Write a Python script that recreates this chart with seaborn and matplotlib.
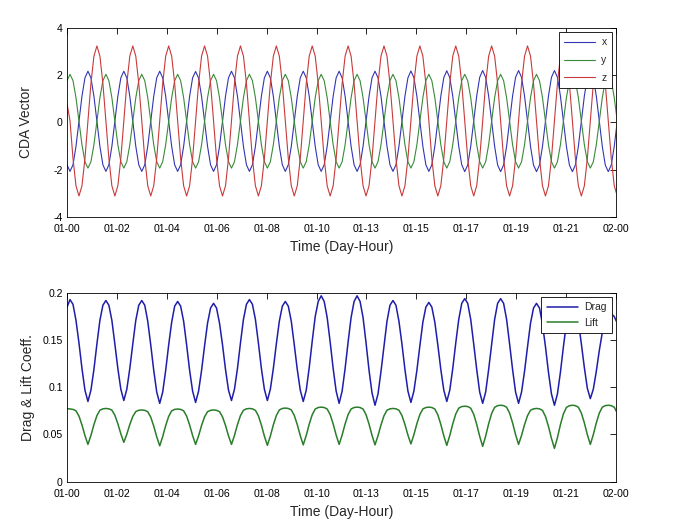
import numpy as np
import pandas as pd
import seaborn as sns
import matplotlib.pyplot as plt

# one sample every 470.6 s (about 12 samples per orbit)
t = pd.date_range('2013-01-01 00:00', periods=185, freq='470600ms')

# CDA vector components
cda_x = [-1.79,
         -2.07, -1.79, -1.01, 0.05, 1.11, 1.89, 2.17, 1.89, 1.11, 0.05, -1.01, -1.79,
         -2.07, -1.79, -1.01, 0.05, 1.11, 1.89, 2.17, 1.89, 1.11, 0.05, -1.01, -1.79,
         -2.07, -1.79, -1.01, 0.05, 1.11, 1.89, 2.17, 1.89, 1.11, 0.05, -1.01, -1.79,
         -2.07, -1.79, -1.01, 0.05, 1.11, 1.89, 2.16, 1.88, 1.10, 0.05, -1.01, -1.79,
         -2.07, -1.79, -1.01, 0.05, 1.11, 1.89, 2.17, 1.89, 1.11, 0.05, -1.01, -1.79,
         -2.07, -1.79, -1.01, 0.05, 1.11, 1.89, 2.17, 1.89, 1.11, 0.05, -1.01, -1.79,
         -2.07, -1.79, -1.01, 0.05, 1.11, 1.89, 2.17, 1.89, 1.11, 0.05, -1.01, -1.79,
         -2.07, -1.79, -1.01, 0.05, 1.11, 1.89, 2.17, 1.89, 1.11, 0.05, -1.01, -1.79,
         -2.07, -1.79, -1.01, 0.05, 1.11, 1.89, 2.17, 1.89, 1.11, 0.05, -1.01, -1.79,
         -2.07, -1.79, -1.01, 0.05, 1.11, 1.89, 2.18, 1.90, 1.11, 0.05, -1.01, -1.79,
         -2.07, -1.79, -1.01, 0.05, 1.11, 1.90, 2.19, 1.90, 1.11, 0.05, -1.01, -1.79,
         -2.08, -1.80, -1.01, 0.05, 1.12, 1.91, 2.20, 1.91, 1.12, 0.05, -1.01, -1.80,
         -2.08, -1.80, -1.01, 0.05, 1.12, 1.91, 2.20, 1.91, 1.12, 0.05, -1.01, -1.80,
         -2.08, -1.80, -1.01, 0.05, 1.12, 1.91, 2.20, 1.91, 1.12, 0.05, -1.01, -1.80,
         -2.08, -1.80, -1.01, 0.05, 1.12, 1.91, 2.20, 1.91, 1.12, 0.05, -1.01, -1.80,
         -2.08, -1.80, -1.01, 0.05]

cda_y = [1.77,
         2.04, 1.77, 1.05, 0.06, -0.94, -1.66, -1.93, -1.66, -0.94, 0.06, 1.05, 1.77,
         2.04, 1.77, 1.05, 0.06, -0.94, -1.66, -1.93, -1.66, -0.94, 0.06, 1.05, 1.77,
         2.04, 1.77, 1.05, 0.06, -0.94, -1.66, -1.93, -1.66, -0.94, 0.06, 1.05, 1.77,
         2.04, 1.77, 1.05, 0.06, -0.94, -1.66, -1.93, -1.66, -0.94, 0.06, 1.05, 1.77,
         2.04, 1.77, 1.05, 0.06, -0.94, -1.66, -1.93, -1.66, -0.94, 0.06, 1.05, 1.77,
         2.04, 1.77, 1.05, 0.06, -0.94, -1.66, -1.93, -1.66, -0.94, 0.06, 1.05, 1.77,
         2.04, 1.77, 1.05, 0.06, -0.94, -1.66, -1.93, -1.66, -0.94, 0.06, 1.05, 1.77,
         2.04, 1.77, 1.05, 0.06, -0.94, -1.66, -1.93, -1.66, -0.94, 0.06, 1.05, 1.77,
         2.04, 1.77, 1.05, 0.06, -0.94, -1.66, -1.93, -1.66, -0.94, 0.06, 1.05, 1.77,
         2.04, 1.77, 1.05, 0.06, -0.94, -1.66, -1.93, -1.66, -0.94, 0.06, 1.05, 1.77,
         2.04, 1.77, 1.05, 0.06, -0.94, -1.66, -1.93, -1.66, -0.94, 0.06, 1.05, 1.77,
         2.04, 1.77, 1.05, 0.06, -0.94, -1.66, -1.93, -1.66, -0.94, 0.06, 1.05, 1.77,
         2.04, 1.77, 1.05, 0.06, -0.94, -1.66, -1.93, -1.66, -0.94, 0.06, 1.05, 1.77,
         2.04, 1.77, 1.05, 0.06, -0.94, -1.66, -1.93, -1.66, -0.94, 0.06, 1.05, 1.77,
         2.04, 1.77, 1.05, 0.06, -0.94, -1.66, -1.93, -1.66, -0.94, 0.06, 1.05, 1.77,
         2.04, 1.77, 1.05, 0.06]

cda_z = [0.80,
         0.07, -1.52, -2.68, -3.11, -2.68, -1.52, 0.07, 1.65, 2.81, 3.24, 2.81, 1.65,
         0.07, -1.52, -2.68, -3.11, -2.68, -1.52, 0.07, 1.65, 2.81, 3.24, 2.81, 1.65,
         0.07, -1.52, -2.68, -3.11, -2.68, -1.52, 0.07, 1.65, 2.81, 3.24, 2.81, 1.65,
         0.07, -1.52, -2.68, -3.11, -2.68, -1.52, 0.07, 1.65, 2.81, 3.24, 2.81, 1.65,
         0.07, -1.52, -2.68, -3.11, -2.68, -1.52, 0.07, 1.65, 2.81, 3.24, 2.81, 1.65,
         0.07, -1.52, -2.68, -3.11, -2.68, -1.52, 0.07, 1.65, 2.81, 3.24, 2.81, 1.65,
         0.07, -1.52, -2.68, -3.11, -2.68, -1.52, 0.07, 1.65, 2.81, 3.24, 2.81, 1.65,
         0.07, -1.52, -2.68, -3.11, -2.68, -1.52, 0.07, 1.65, 2.81, 3.24, 2.81, 1.65,
         0.07, -1.52, -2.68, -3.11, -2.68, -1.52, 0.07, 1.65, 2.81, 3.24, 2.81, 1.65,
         0.07, -1.52, -2.68, -3.11, -2.68, -1.52, 0.07, 1.65, 2.81, 3.24, 2.81, 1.65,
         0.07, -1.52, -2.68, -3.11, -2.68, -1.52, 0.07, 1.65, 2.81, 3.24, 2.81, 1.65,
         0.07, -1.52, -2.68, -3.11, -2.68, -1.52, 0.07, 1.65, 2.81, 3.24, 2.81, 1.65,
         0.07, -1.52, -2.68, -3.11, -2.68, -1.52, 0.07, 1.65, 2.81, 3.24, 2.81, 1.65,
         0.07, -1.52, -2.68, -3.11, -2.68, -1.52, 0.07, 1.65, 2.81, 3.24, 2.81, 1.65,
         0.07, -1.52, -2.68, -3.11, -2.68, -1.52, 0.07, 1.65, 2.81, 3.24, 2.81, 1.65,
         0.07, -1.52, -2.68, -3.11]

# aerodynamic coefficients
drag = [0.185,
        0.193, 0.188, 0.171, 0.147, 0.120, 0.097, 0.085, 0.097, 0.119, 0.146, 0.171, 0.187,
        0.192, 0.187, 0.171, 0.146, 0.120, 0.098, 0.086, 0.098, 0.120, 0.146, 0.171, 0.187,
        0.192, 0.187, 0.170, 0.145, 0.118, 0.095, 0.083, 0.095, 0.118, 0.145, 0.169, 0.186,
        0.191, 0.186, 0.170, 0.145, 0.118, 0.096, 0.084, 0.096, 0.118, 0.144, 0.168, 0.184,
        0.189, 0.184, 0.168, 0.145, 0.119, 0.097, 0.086, 0.098, 0.120, 0.147, 0.172, 0.188,
        0.193, 0.188, 0.172, 0.147, 0.120, 0.098, 0.086, 0.098, 0.120, 0.146, 0.170, 0.186,
        0.191, 0.186, 0.170, 0.145, 0.119, 0.097, 0.085, 0.097, 0.121, 0.149, 0.175, 0.191,
        0.197, 0.191, 0.174, 0.148, 0.120, 0.096, 0.083, 0.096, 0.120, 0.148, 0.174, 0.191,
        0.197, 0.191, 0.174, 0.147, 0.118, 0.094, 0.081, 0.093, 0.117, 0.144, 0.170, 0.187,
        0.192, 0.187, 0.170, 0.146, 0.119, 0.096, 0.084, 0.096, 0.118, 0.144, 0.169, 0.185,
        0.190, 0.185, 0.169, 0.145, 0.119, 0.097, 0.085, 0.097, 0.120, 0.147, 0.172, 0.189,
        0.194, 0.189, 0.172, 0.146, 0.119, 0.095, 0.083, 0.095, 0.119, 0.146, 0.172, 0.189,
        0.194, 0.189, 0.172, 0.146, 0.119, 0.095, 0.083, 0.095, 0.117, 0.143, 0.168, 0.184,
        0.189, 0.184, 0.167, 0.143, 0.116, 0.093, 0.081, 0.093, 0.116, 0.143, 0.168, 0.185,
        0.190, 0.185, 0.170, 0.146, 0.121, 0.099, 0.088, 0.098, 0.117, 0.139, 0.158, 0.170,
        0.176, 0.178, 0.175, 0.168]

lift = [0.0775,
        0.0770, 0.0766, 0.0751, 0.0695, 0.0601, 0.0489, 0.0395, 0.0490, 0.0605, 0.0700, 0.0757, 0.0772,
        0.0776, 0.0772, 0.0758, 0.0704, 0.0614, 0.0507, 0.0417, 0.0503, 0.0606, 0.0691, 0.0743, 0.0757,
        0.0760, 0.0756, 0.0741, 0.0684, 0.0589, 0.0475, 0.0380, 0.0478, 0.0595, 0.0692, 0.0751, 0.0766,
        0.0770, 0.0766, 0.0751, 0.0695, 0.0601, 0.0489, 0.0395, 0.0486, 0.0596, 0.0687, 0.0742, 0.0756,
        0.0760, 0.0756, 0.0742, 0.0687, 0.0596, 0.0486, 0.0395, 0.0490, 0.0605, 0.0700, 0.0757, 0.0772,
        0.0776, 0.0772, 0.0756, 0.0698, 0.0600, 0.0483, 0.0385, 0.0484, 0.0602, 0.0701, 0.0760, 0.0776,
        0.0780, 0.0776, 0.0761, 0.0702, 0.0605, 0.0488, 0.0390, 0.0490, 0.0610, 0.0710, 0.0770, 0.0786,
        0.0790, 0.0786, 0.0770, 0.0711, 0.0612, 0.0494, 0.0395, 0.0494, 0.0612, 0.0711, 0.0770, 0.0786,
        0.0790, 0.0786, 0.0770, 0.0710, 0.0610, 0.0490, 0.0390, 0.0487, 0.0602, 0.0699, 0.0757, 0.0772,
        0.0776, 0.0772, 0.0757, 0.0701, 0.0607, 0.0494, 0.0400, 0.0498, 0.0615, 0.0712, 0.0771, 0.0786,
        0.0790, 0.0786, 0.0770, 0.0709, 0.0608, 0.0486, 0.0385, 0.0489, 0.0613, 0.0717, 0.0779, 0.0796,
        0.0800, 0.0796, 0.0779, 0.0715, 0.0608, 0.0481, 0.0374, 0.0483, 0.0614, 0.0723, 0.0788, 0.0806,
        0.0810, 0.0806, 0.0789, 0.0727, 0.0623, 0.0499, 0.0395, 0.0490, 0.0605, 0.0700, 0.0757, 0.0772,
        0.0776, 0.0772, 0.0755, 0.0691, 0.0586, 0.0459, 0.0353, 0.0467, 0.0604, 0.0719, 0.0787, 0.0805,
        0.0810, 0.0806, 0.0789, 0.0727, 0.0623, 0.0499, 0.0395, 0.0499, 0.0623, 0.0727, 0.0789, 0.0806,
        0.0810, 0.0806, 0.0789, 0.0727]

tick_labels = ['01-00', '01-02', '01-04', '01-06', '01-08', '01-10',
               '01-13', '01-15', '01-17', '01-19', '01-21', '02-00']
tick_pos = pd.date_range('2013-01-01', '2013-01-02', periods=len(tick_labels))

sns.set_style('white')
plt.rcParams['font.family'] = ['Liberation Sans', 'DejaVu Sans']
plt.rcParams['axes.unicode_minus'] = False

df_top = pd.DataFrame({'time': np.tile(t, 3),
                       'value': cda_x + cda_y + cda_z,
                       'comp': ['x'] * len(t) + ['y'] * len(t) + ['z'] * len(t)})
df_bot = pd.DataFrame({'time': np.tile(t, 2),
                       'value': drag + lift,
                       'comp': ['Drag'] * len(t) + ['Lift'] * len(t)})

fig = plt.figure(figsize=(6.81, 5.32), dpi=100)
ax1 = fig.add_axes([0.0984, 0.5921, 0.8062, 0.3553])
ax2 = fig.add_axes([0.0984, 0.0946, 0.8062, 0.3547])

sns.lineplot(data=df_top, x='time', y='value', hue='comp', ax=ax1,
             palette=['#3434b4', '#3a8a3a', '#c83a3a'], linewidth=0.8)
sns.lineplot(data=df_bot, x='time', y='value', hue='comp', ax=ax2,
             palette=['#1e1eaa', '#2a7d2a'], linewidth=1.1)

for ax in (ax1, ax2):
    ax.set_xlim(pd.Timestamp('2013-01-01'), pd.Timestamp('2013-01-02'))
    ax.set_xticks(tick_pos)
    ax.set_xticklabels(tick_labels)
    ax.tick_params(direction='in', length=4, width=0.6, top=True, right=True,
                   labelsize=7.6, colors='black')
    ax.tick_params(axis='x', pad=5)
    ax.tick_params(axis='y', pad=3)
    for s in ax.spines.values():
        s.set_color('black')
        s.set_linewidth(0.6)
    ax.set_xlabel('Time (Day-Hour)', fontsize=10)
    ax.xaxis.set_label_coords(0.5, -0.122)

ax1.legend(*ax1.get_legend_handles_labels(), loc='upper right', fontsize=7.5,
           frameon=True, fancybox=False, edgecolor='black', framealpha=1,
           handlelength=3.0, labelspacing=0.75, borderaxespad=0.4,
           borderpad=0.5, handletextpad=0.6)
ax2.legend(*ax2.get_legend_handles_labels(), loc='upper right', fontsize=7.5,
           frameon=True, fancybox=False, edgecolor='black', framealpha=1,
           handlelength=3.0, labelspacing=0.55, borderaxespad=0.4,
           borderpad=0.5, handletextpad=0.6)
for ax in (ax1, ax2):
    ax.get_legend().get_frame().set_linewidth(0.6)

ax1.set_ylim(-4, 4)
ax1.set_yticks([-4, -2, 0, 2, 4])
ax1.set_ylabel('CDA Vector', fontsize=10)
ax1.yaxis.set_label_coords(-0.062, 0.5)

ax2.set_ylim(0, 0.2)
ax2.set_yticks([0, 0.05, 0.1, 0.15, 0.2])
ax2.set_yticklabels(['0', '0.05', '0.1', '0.15', '0.2'])
ax2.set_ylabel('Drag & Lift Coeff.', fontsize=10)
ax2.yaxis.set_label_coords(-0.058, 0.5)

fig.savefig('out.png', dpi=100)
